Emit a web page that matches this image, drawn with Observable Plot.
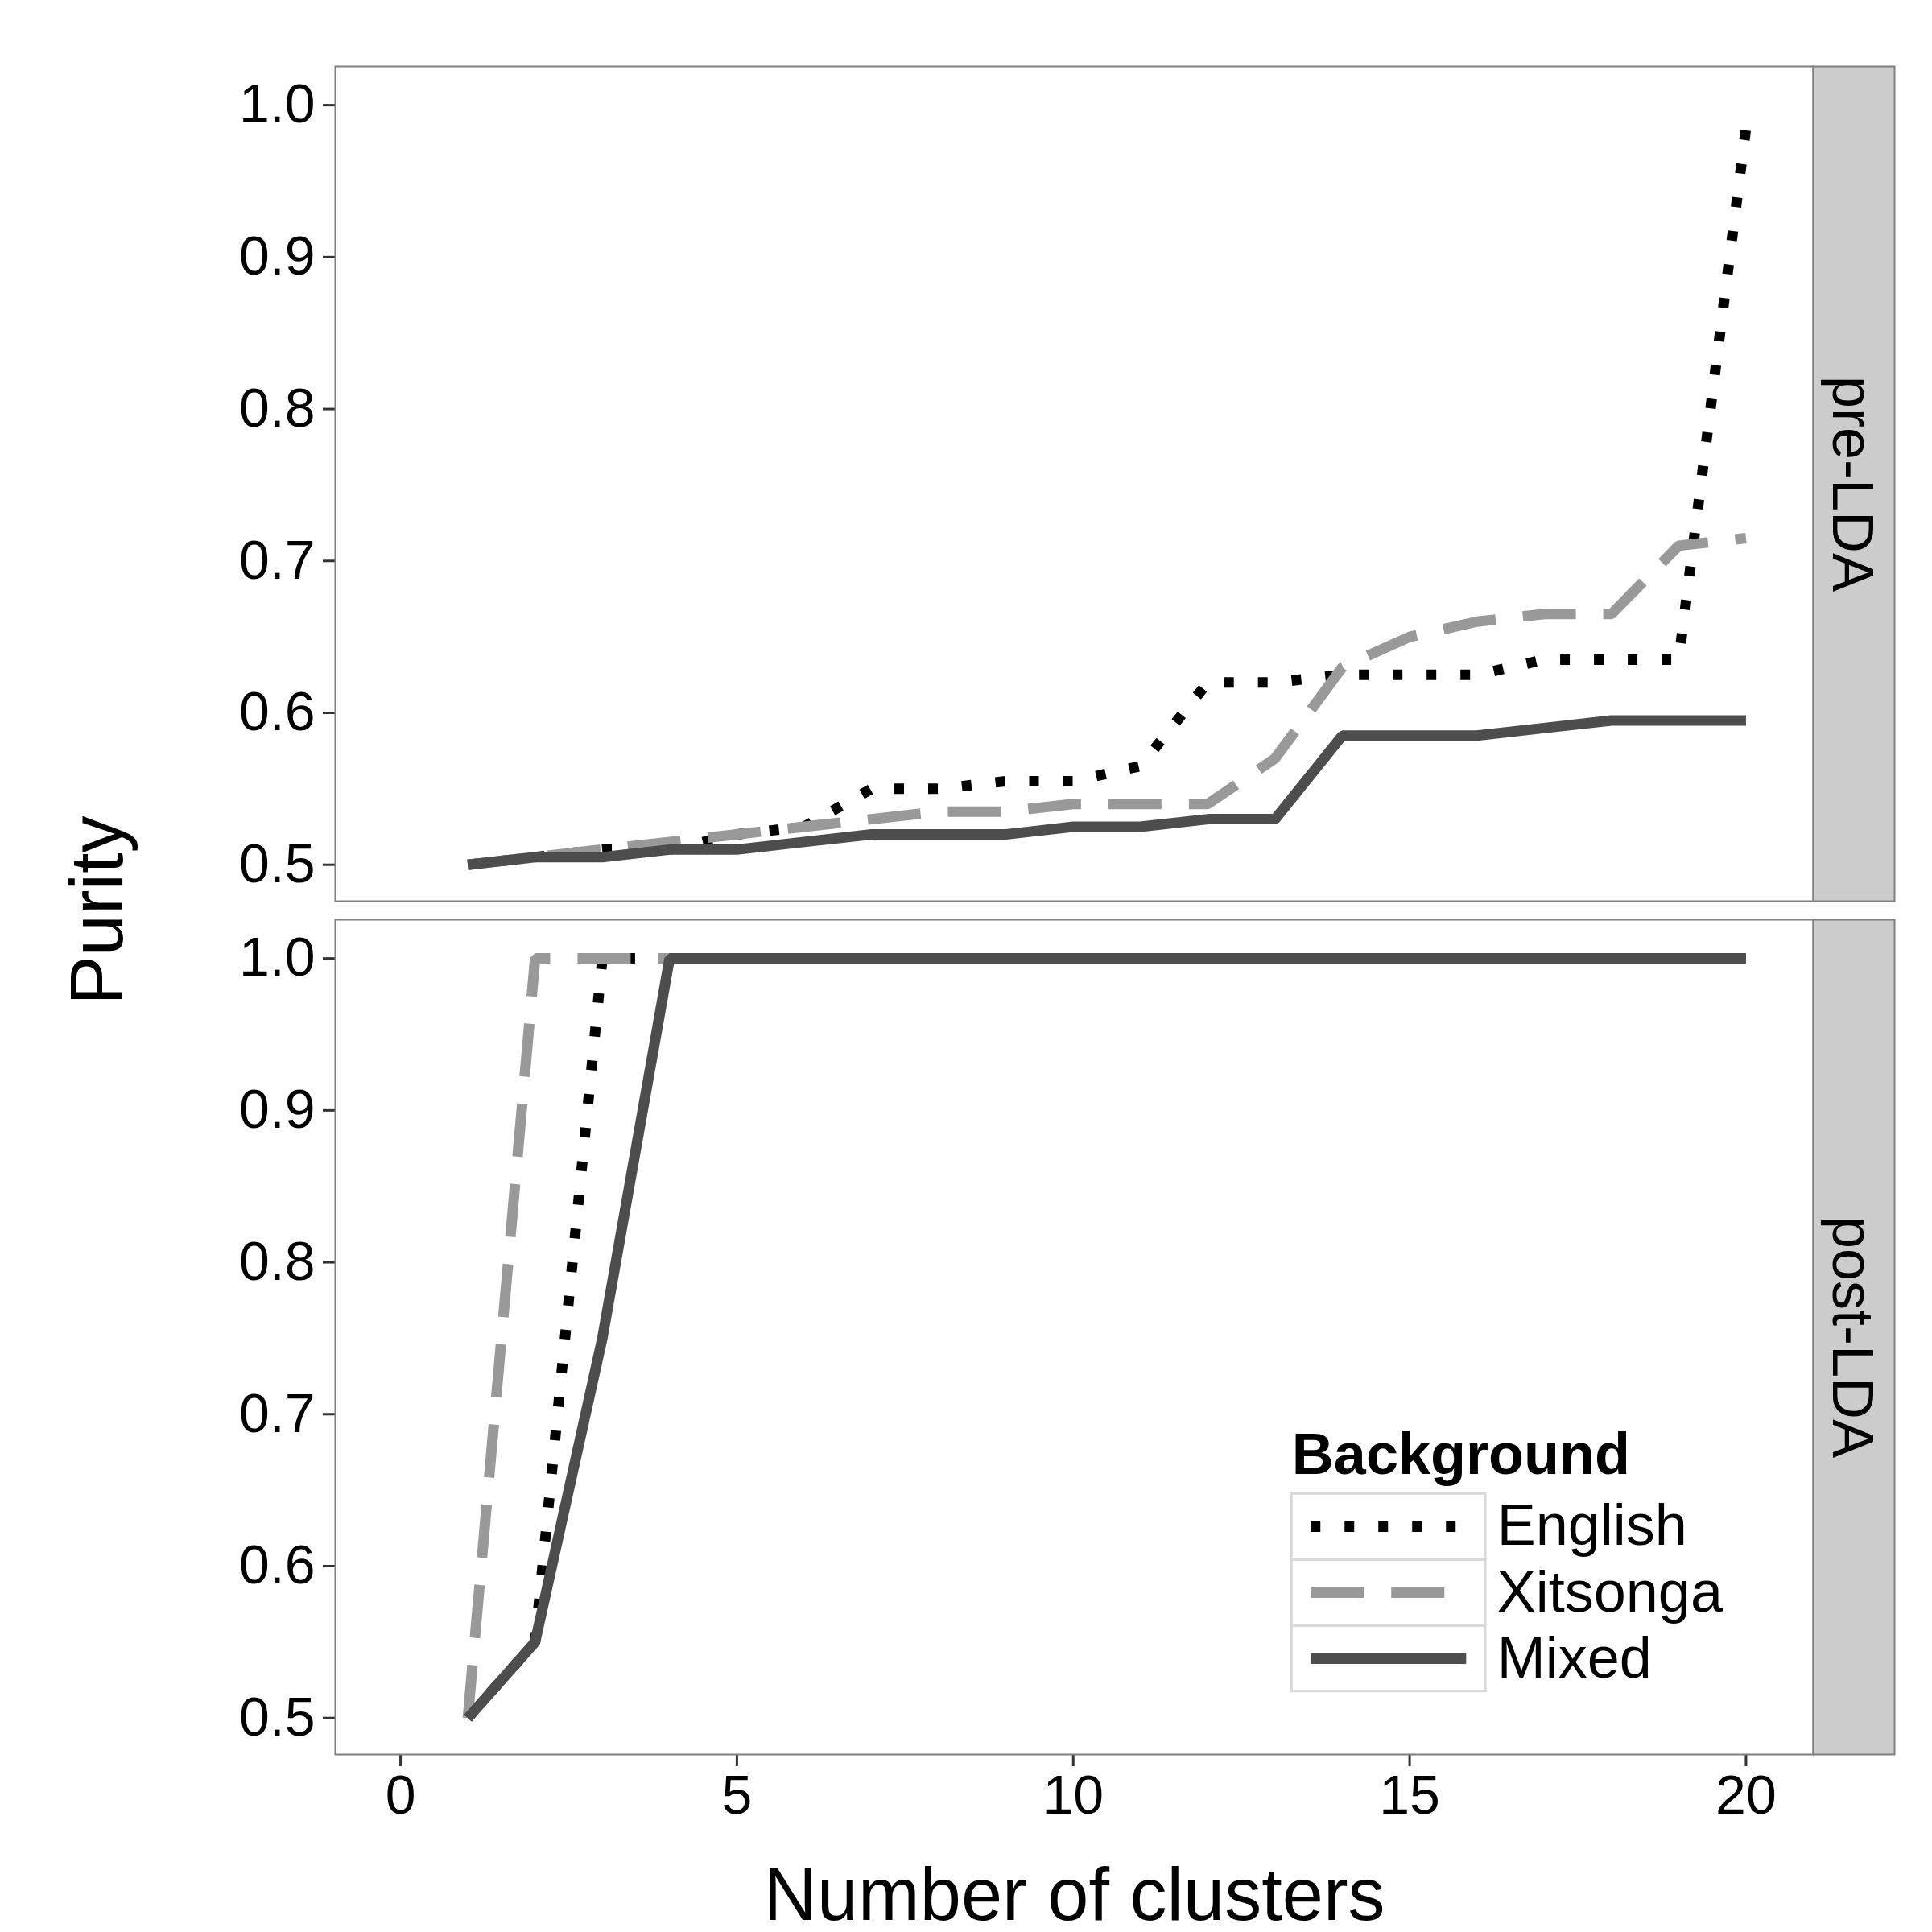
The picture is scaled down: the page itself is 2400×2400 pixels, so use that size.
<!doctype html>
<html><head><meta charset="utf-8"><style>body{margin:0;background:#fff}</style></head>
<body>
<div id="myplot"></div>
<script src="https://cdn.jsdelivr.net/npm/d3@7"></script>
<script src="https://cdn.jsdelivr.net/npm/@observablehq/plot@0.6"></script>
<script>
const clusters = d3.range(1, 21);
const stages = ["pre-LDA", "post-LDA"];
const backgrounds = ["English", "Xitsonga", "Mixed"];

const preEnglish = [0.50,0.505,0.51,0.51,0.52,0.525,0.55,0.55,0.555,0.555,0.565,0.62,0.62,0.625,0.625,0.625,0.635,0.635,0.635,0.985];
const preXitsonga = [0.50,0.505,0.51,0.515,0.52,0.525,0.53,0.535,0.535,0.54,0.54,0.54,0.57,0.63,0.65,0.66,0.665,0.665,0.71,0.715];
const preMixed = [0.50,0.505,0.505,0.51,0.51,0.515,0.52,0.52,0.52,0.525,0.525,0.53,0.53,0.585,0.585,0.585,0.59,0.595,0.595,0.595];
const postEnglish = [0.50,0.55,1,1,1,1,1,1,1,1,1,1,1,1,1,1,1,1,1,1];
const postXitsonga = [0.50,1,1,1,1,1,1,1,1,1,1,1,1,1,1,1,1,1,1,1];
const postMixed = [0.50,0.55,0.75,1,1,1,1,1,1,1,1,1,1,1,1,1,1,1,1,1];

const series = {
  "pre-LDA": {English: preEnglish, Xitsonga: preXitsonga, Mixed: preMixed},
  "post-LDA": {English: postEnglish, Xitsonga: postXitsonga, Mixed: postMixed}
};
const rows = [];
for (const s of stages) for (const b of backgrounds)
  series[s][b].forEach((v, i) => rows.push({stage: s, bg: b, k: clusters[i], purity: v}));

const style = {
  English: {stroke: "#000000", dash: "12,30"},
  Xitsonga: {stroke: "#999999", dash: "66,34"},
  Mixed: {stroke: "#4d4d4d", dash: null}
};

// legend (inside the post-LDA panel, in data units)
const legendRows = backgrounds.map((b, i) => ({stage: "post-LDA", bg: b, y: 0.626 - i * 0.0435}));
const legendTitle = [{stage: "post-LDA", x: 13.25, y: 0.673, text: "Background"}];

const marks = [];
for (const b of backgrounds) {
  marks.push(Plot.line(rows.filter(d => d.bg === b), {
    x: "k", y: "purity", fy: "stage", stroke: style[b].stroke, strokeWidth: 13,
    strokeDasharray: style[b].dash, strokeLinecap: "butt", strokeLinejoin: "miter"
  }));
}
marks.push(
  Plot.rect(legendRows, {x1: 13.25, x2: 16.13, y1: d => d.y - 0.0215, y2: d => d.y + 0.0215, fy: "stage", fill: "#fff", stroke: "#d9d9d9", strokeWidth: 3}),
  ...backgrounds.map(b => Plot.link(legendRows.filter(d => d.bg === b), {
    x1: 13.53, x2: 15.84, y1: "y", y2: "y", fy: "stage", stroke: style[b].stroke,
    strokeWidth: 13, strokeDasharray: style[b].dash, strokeLinecap: "butt"
  })),
  Plot.text(legendRows, {x: 16.3, y: "y", fy: "stage", text: "bg", textAnchor: "start", fontSize: 72, fill: "#000"}),
  Plot.text(legendTitle, {x: "x", y: "y", fy: "stage", text: "text", textAnchor: "start", fontSize: 72, fontWeight: "bold", fill: "#000"}),
  Plot.frame({stroke: "#7f7f7f", strokeWidth: 2})
);

const plot = Plot.plot({
  width: 2400, height: 2400,
  marginLeft: 416, marginRight: 148, marginTop: 81, marginBottom: 221,
  style: {fontFamily: "Liberation Sans, Arial, sans-serif", fontSize: "68px", color: "#000", background: "#fff"},
  x: {domain: [-0.97, 21.0], ticks: [0, 5, 10, 15, 20], label: "Number of clusters", labelAnchor: "center", labelArrow: "none", labelOffset: 205, tickSize: 15, tickPadding: 10},
  y: {domain: [0.476, 1.0255], ticks: [0.5, 0.6, 0.7, 0.8, 0.9, 1.0], tickFormat: d3.format(".1f"), label: "Purity", labelAnchor: "center", labelArrow: "none", labelOffset: 330, tickSize: 15, tickPadding: 10},
  fy: {domain: stages, padding: 0.022, axis: null, label: null},
  marks
});

document.querySelector("#myplot").append(plot);

// style axes like ggplot
const svg = d3.select(plot);
svg.selectAll('[aria-label="x-axis tick"] path, [aria-label="y-axis tick"] path').attr("stroke", "#333").attr("stroke-width", 3);
svg.selectAll('[aria-label="x-axis label"] text, [aria-label="y-axis label"] text').style("font-size", "92px");

// facet strips to the right of each panel frame
const svgBox = plot.getBoundingClientRect();
const frames = [];
svg.selectAll('[aria-label="frame"] rect').each(function () {
  const b = this.getBoundingClientRect();
  frames.push({x: b.right - svgBox.left, y: b.top - svgBox.top, h: b.height});
});
frames.sort((a, b) => a.y - b.y).forEach((f, i) => {
  svg.append("rect").attr("x", f.x).attr("y", f.y).attr("width", 101).attr("height", f.h)
    .attr("fill", "#cccccc").attr("stroke", "#7f7f7f").attr("stroke-width", 2);
  svg.append("text").attr("transform", `translate(${f.x + 50},${f.y + f.h / 2}) rotate(90)`)
    .attr("text-anchor", "middle").attr("dy", "0.35em").style("font-size", "72px").text(stages[i]);
});
</script>
</body></html>
